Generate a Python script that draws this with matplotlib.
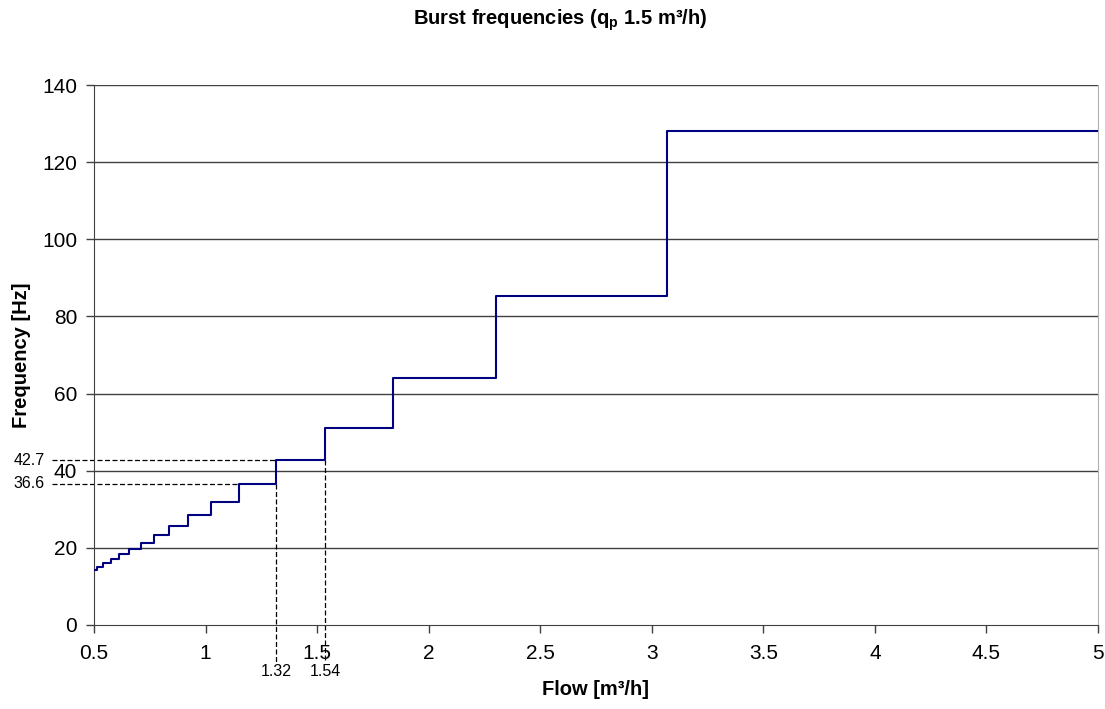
import matplotlib
matplotlib.use('Agg')
import matplotlib.pyplot as plt

# flow breakpoints [m3/h] and frequency on each interval [Hz]
flow = [0.5, 0.512, 0.542, 0.576, 0.614, 0.658, 0.709, 0.768, 0.837, 0.921,
        1.023, 1.151, 1.316, 1.535, 1.842, 2.303, 3.07, 5.0]
freq = [14.2, 15.1, 16.0, 17.1, 18.3, 19.7, 21.3, 23.3, 25.6, 28.4,
        32.0, 36.6, 42.7, 51.2, 64.0, 85.3, 128.0]

# marked points
mark_freq = [42.7, 36.6]
mark_freq_end = [1.316, 1.151]
mark_flow = [1.316, 1.535]
mark_flow_top = [36.6, 42.7]
mark_flow_labels = ['1.32', '1.54']

xticks = [0.5, 1, 1.5, 2, 2.5, 3, 3.5, 4, 4.5, 5]
yticks = [0, 20, 40, 60, 80, 100, 120, 140]

plt.rcParams['font.family'] = ['Liberation Sans', 'DejaVu Sans']

fig = plt.figure(figsize=(11.05, 7.09), dpi=100)
ax = fig.add_axes([0.0851, 0.1185, 0.9086, 0.7615])

for y in yticks[1:]:
    ax.axhline(y, color='#404040', lw=1.0, zorder=1)

ax.step(flow, freq + [freq[-1]], where='post', color='#000080', lw=1.5, zorder=3)

# dashed helper lines
for y, xe in zip(mark_freq, mark_freq_end):
    ax.plot([0.31, xe], [y, y], color='black', ls=(0, (4, 2)), lw=0.9,
            clip_on=False, zorder=2)
    ax.text(0.28, y, '%.1f' % y, ha='right', va='center', fontsize=11.5,
            clip_on=False)
for x, yt, lab in zip(mark_flow, mark_flow_top, mark_flow_labels):
    ax.plot([x, x], [yt, -9.5], color='black', ls=(0, (4, 2)), lw=0.9,
            clip_on=False, zorder=2)
    ax.text(x, -12.0, lab, ha='center', va='center', fontsize=11.5)

ax.set_xlim(0.5, 5)
ax.set_ylim(0, 140)
ax.set_xticks(xticks)
ax.set_xticklabels(['0.5', '1', '1.5', '2', '2.5', '3', '3.5', '4', '4.5', '5'])
ax.set_yticks(yticks)
ax.tick_params(labelsize=15, length=6, width=1, color='#404040')
ax.tick_params(axis='x', pad=8)
ax.tick_params(axis='y', pad=6)

ax.spines['top'].set_visible(False)
ax.spines['right'].set_color('#b0b0b0')
ax.spines['left'].set_color('#404040')
ax.spines['bottom'].set_color('#404040')

fig.text(0.539, 0.027, 'Flow [m³/h]', ha='center', va='center',
         fontsize=14.5, fontweight='bold')
fig.text(0.0199, 0.499, 'Frequency [Hz]', ha='center', va='center',
         rotation=90, fontsize=14.5, fontweight='bold')
fig.text(0.507, 0.972, 'Burst frequencies (q$_\\mathregular{p}$ 1.5 m³/h)',
         ha='center', va='center', fontsize=14.5, fontweight='bold')

fig.savefig('out.png', dpi=100)
